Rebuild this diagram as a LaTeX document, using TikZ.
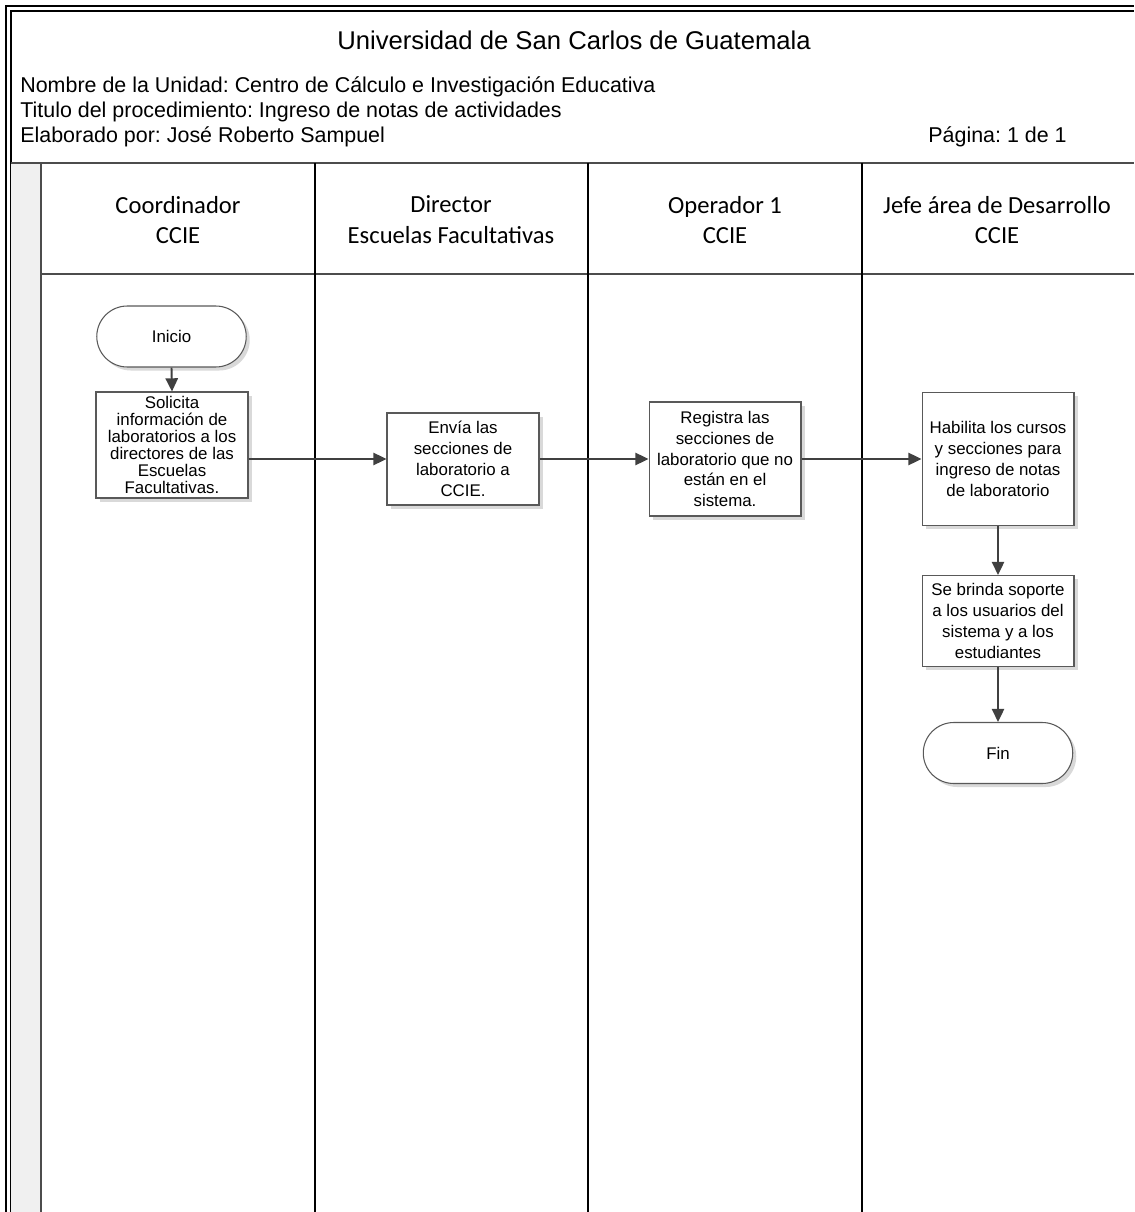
\documentclass[tikz,border=0pt]{standalone}
\usepackage{fontspec}
\setmainfont{Liberation Sans}
\newfontfamily\lanefont{Carlito}
\frenchspacing
\usetikzlibrary{arrows.meta,shadows,shapes.misc}
\tikzset{
	proc/.style={draw=black!65, fill=white, line width=0.6pt, minimum width=3.04cm, align=center, inner sep=1pt, font=\fontsize{9.6}{11.9}\selectfont, drop shadow={shadow xshift=2pt, shadow yshift=-2pt, fill=black!25, opacity=0.6}},
	term/.style={proc, rounded rectangle, minimum width=3.06cm, minimum height=1.22cm},
	flow/.style={draw=black!75, line width=1.1pt, -{Triangle[length=7.5pt,width=7pt]}},
	lanehead/.style={align=center, font=\lanefont\fontsize{14}{17.5}\selectfont},
	hdrline/.style={anchor=west, inner sep=0pt, font=\fontsize{12.2}{14}\selectfont},
	lane/.style={line width=1pt},
	grayline/.style={draw=black!70, line width=0.9pt}
}

\begin{document}
\begin{tikzpicture}[x=0.02cm, y=-0.02cm]
		%%%%% START %%%%%
		\useasboundingbox (0, 0) rectangle (1134, 1212);
		
		% frame
		\draw[line width=1.2pt] (6, 1212) -- (6, 6) -- (1134, 6);
		\draw[line width=0.9pt] (11, 1212) -- (11, 11) -- (1134, 11);
		
		% header texts
		\node (titulo) at (574, 40) {\fontsize{14.6}{17}\selectfont Universidad de San Carlos de Guatemala};
		\node[hdrline] (unidad) at (20, 87) {Nombre de la Unidad: Centro de Cálculo e Investigación Educativa};
		\node[hdrline] (proced) at (20, 112) {Titulo del procedimiento: Ingreso de notas de actividades};
		\node[hdrline] (elabor) at (20, 137) {Elaborado por: José Roberto Sampuel};
		\node[hdrline, anchor=east] (pagina) at (1067, 137) {Página: 1 de 1};
		
		% lanes
		\fill[black!6] (11, 163) rectangle (41, 1212);
		\draw[grayline] (11, 163) -- (1134, 163);
		\draw[grayline] (41, 163) -- (41, 1212);
		\draw[grayline] (41, 274) -- (1134, 274);
		\draw[lane] (315, 163) -- (315, 1212);
		\draw[lane] (588, 163) -- (588, 1212);
		\draw[lane] (862, 163) -- (862, 1212);
		
		\node[lanehead] (hcoord) at (178, 220) {Coordinador\\CCIE};
		\node[lanehead] (hdir) at (451, 220) {Director\\Escuelas Facultativas};
		\node[lanehead] (hoper) at (725, 220) {Operador 1\\CCIE};
		\node[lanehead] (hjefe) at (997, 220) {Jefe área de Desarrollo\\CCIE};
		
		% steps
		\node[term] (ini) at (171.5, 336.5) {Inicio};
		\node[proc, minimum height=2.12cm, font=\fontsize{9.6}{9.7}\selectfont] (sol) at (172, 445) {Solicita\\información de\\laboratorios a los\\directores de las\\Escuelas\\Facultativas.};
		\node[proc, minimum height=1.84cm] (env) at (463, 459) {Envía las\\secciones de\\laboratorio a\\CCIE.};
		\node[proc, minimum height=2.28cm] (reg) at (725, 459) {Registra las\\secciones de\\laboratorio que no\\están en el\\sistema.};
		\node[proc, minimum height=2.66cm] (hab) at (998, 459) {Habilita los cursos\\y secciones para\\ingreso de notas\\de laboratorio};
		\node[proc, minimum height=1.82cm] (sop) at (998, 621) {Se brinda soporte\\a los usuarios del\\sistema y a los\\estudiantes};
		\node[term] (fin) at (998, 753) {Fin};
		
		% connectors
		\draw[flow] (ini.south) -- (sol.north);
		\draw[flow] (sol.east |- env.west) -- (env.west);
		\draw[flow] (env.east) -- (reg.west);
		\draw[flow] (reg.east) -- (hab.west);
		\draw[flow] (hab.south) -- (sop.north);
		\draw[flow] (sop.south) -- (fin.north);
		%%%%% END %%%%%
\end{tikzpicture}
\end{document}
